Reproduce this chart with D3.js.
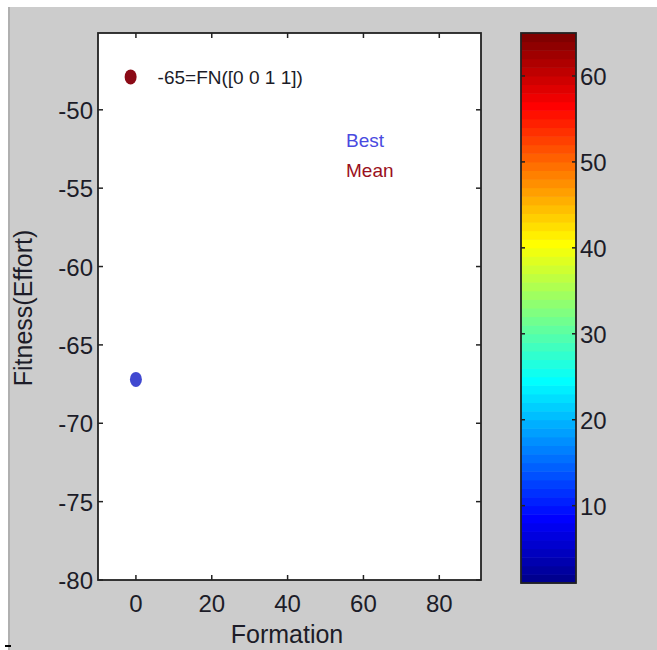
<!DOCTYPE html>
<html>
<head>
<meta charset="utf-8">
<script src="https://cdn.jsdelivr.net/npm/d3@7"></script>
<style>
  html, body { margin: 0; padding: 0; background: #fff; }
  svg { display: block; font-family: "Liberation Sans", Arial, sans-serif; }
</style>
</head>
<body>
<div id="chart"></div>
<script>
// data
const seriesNames = ["Best", "Mean"]
const seriesColors = ["#4048d0", "#8b0a16"]
const textColors = ["#4a4ae0", "#9a1020"]
const formation = [0, -1.4]
const fitness = [-67.2, -47.9]
const xTicks = [0, 20, 40, 60, 80]
const yTicks = [-80, -75, -70, -65, -60, -55, -50]
const cbarTicks = [10, 20, 30, 40, 50, 60]
const cbarLevels = d3.range(1, 65) // 64 colour levels
const annotation = "-65=FN([0 0 1 1])"
const legendX = 55.4
const legendY = [-52.4, -54.3]

const width = 657
const height = 650
const plot = { left: 98, right: 481, top: 33, bottom: 580 }
const cbar = { left: 521, right: 576, top: 33, bottom: 583 }
const ink = "#1c1c28"

// matlab jet(64)
function jet(i) {
  const u = (k) => (k < 1 ? 0 : k <= 16 ? k / 16 : k <= 31 ? 1 : k <= 47 ? (48 - k) / 16 : 0)
  const r = u(i - 24), g = u(i - 8), b = u(i + 8)
  return d3.rgb(r * 255, g * 255, b * 255).formatHex()
}

const x = d3.scaleLinear().domain([-10, 91]).range([plot.left, plot.right])
const y = d3.scaleLinear().domain([-80, -45.1]).range([plot.bottom, plot.top])
const c = d3.scaleLinear().domain([1, 65]).range([cbar.bottom, cbar.top])

const svg = d3.select("#chart")
  .append("svg")
  .attr("width", width)
  .attr("height", height)

// figure background
svg.append("rect")
  .attr("x", 8).attr("y", 7)
  .attr("width", width - 8).attr("height", height - 7)
  .attr("fill", "#cccccc")
svg.append("rect")
  .attr("x", 8).attr("y", 7)
  .attr("width", 2).attr("height", height - 7)
  .attr("fill", "#b0b0b0")
svg.append("rect")
  .attr("x", 5).attr("y", 645)
  .attr("width", 6).attr("height", 2)
  .attr("fill", "#000")

// axes box
svg.append("rect")
  .attr("x", plot.left).attr("y", plot.top)
  .attr("width", plot.right - plot.left)
  .attr("height", plot.bottom - plot.top)
  .attr("fill", "#fff")

const tickLen = 5
const g = svg.append("g").attr("stroke", "#222").attr("stroke-width", 1.5)
xTicks.forEach((t) => {
  g.append("line").attr("x1", x(t)).attr("x2", x(t))
    .attr("y1", plot.bottom).attr("y2", plot.bottom - tickLen)
  g.append("line").attr("x1", x(t)).attr("x2", x(t))
    .attr("y1", plot.top).attr("y2", plot.top + tickLen)
})
yTicks.forEach((t) => {
  g.append("line").attr("y1", y(t)).attr("y2", y(t))
    .attr("x1", plot.left).attr("x2", plot.left + tickLen)
  g.append("line").attr("y1", y(t)).attr("y2", y(t))
    .attr("x1", plot.right).attr("x2", plot.right - tickLen)
})
svg.append("rect")
  .attr("x", plot.left).attr("y", plot.top)
  .attr("width", plot.right - plot.left)
  .attr("height", plot.bottom - plot.top)
  .attr("fill", "none")
  .attr("stroke", "#222")
  .attr("stroke-width", 1.8)

// tick labels
svg.append("g")
  .selectAll("text")
  .data(xTicks)
  .enter()
  .append("text")
  .attr("x", (d) => x(d))
  .attr("y", 612)
  .attr("text-anchor", "middle")
  .attr("font-size", "24px")
  .attr("fill", ink)
  .text((d) => d)

svg.append("g")
  .selectAll("text")
  .data(yTicks)
  .enter()
  .append("text")
  .attr("x", 93)
  .attr("y", (d) => y(d) + 9)
  .attr("text-anchor", "end")
  .attr("font-size", "24px")
  .attr("fill", ink)
  .text((d) => d)

// axis labels
svg.append("text")
  .attr("x", 287)
  .attr("y", 643)
  .attr("text-anchor", "middle")
  .attr("font-size", "25px")
  .attr("fill", ink)
  .text("Formation")

svg.append("text")
  .attr("transform", "translate(32,308) rotate(-90)")
  .attr("text-anchor", "middle")
  .attr("font-size", "25px")
  .attr("fill", ink)
  .text("Fitness(Effort)")

// points
svg.append("g")
  .selectAll("ellipse")
  .data(seriesNames)
  .enter()
  .append("ellipse")
  .attr("cx", (d, i) => x(formation[i]))
  .attr("cy", (d, i) => y(fitness[i]))
  .attr("rx", 6)
  .attr("ry", 7.5)
  .attr("fill", (d, i) => seriesColors[i])

// annotation next to mean point
svg.append("text")
  .attr("x", x(formation[1]) + 27)
  .attr("y", y(fitness[1]) + 7)
  .attr("font-size", "19px")
  .attr("fill", ink)
  .text(annotation)

// legend text
svg.append("g")
  .selectAll("text")
  .data(seriesNames)
  .enter()
  .append("text")
  .attr("x", x(legendX))
  .attr("y", (d, i) => y(legendY[i]))
  .attr("font-size", "19px")
  .attr("fill", (d, i) => textColors[i])
  .text((d) => d)

// colorbar
svg.append("g")
  .selectAll("rect")
  .data(cbarLevels)
  .enter()
  .append("rect")
  .attr("x", cbar.left)
  .attr("width", cbar.right - cbar.left)
  .attr("y", (d) => c(d + 1))
  .attr("height", (d) => c(d) - c(d + 1) + 0.5)
  .attr("fill", (d) => jet(d))

const cg = svg.append("g").attr("stroke", "#222").attr("stroke-width", 1.5)
cbarTicks.forEach((t) => {
  cg.append("line").attr("y1", c(t)).attr("y2", c(t))
    .attr("x1", cbar.left).attr("x2", cbar.left + 4)
  cg.append("line").attr("y1", c(t)).attr("y2", c(t))
    .attr("x1", cbar.right).attr("x2", cbar.right - 4)
})
svg.append("rect")
  .attr("x", cbar.left).attr("y", cbar.top)
  .attr("width", cbar.right - cbar.left)
  .attr("height", cbar.bottom - cbar.top)
  .attr("fill", "none")
  .attr("stroke", "#222")
  .attr("stroke-width", 1.8)

svg.append("g")
  .selectAll("text")
  .data(cbarTicks)
  .enter()
  .append("text")
  .attr("x", 580)
  .attr("y", (d) => c(d) + 9)
  .attr("font-size", "24px")
  .attr("fill", ink)
  .text((d) => d)
</script>
</body>
</html>
